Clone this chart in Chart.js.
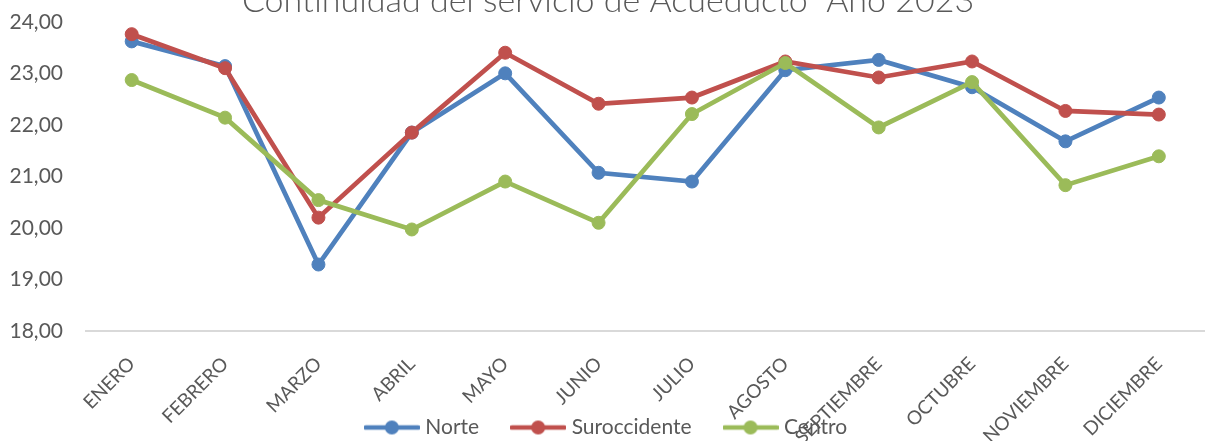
<!DOCTYPE html>
<html>
<head>
<meta charset="utf-8">
<script src="https://cdn.jsdelivr.net/npm/chart.js@4"></script>
<style>
  html, body { margin: 0; padding: 0; background: #fff; overflow: hidden; }
  body { width: 1205px; height: 441px; position: relative; }
  #wrap { position: absolute; left: 0; top: -20px; width: 1213px; height: 468px; }
</style>
</head>
<body>
<div id="wrap"><canvas id="chart"></canvas></div>
<script>
const months = ["ENERO", "FEBRERO", "MARZO", "ABRIL", "MAYO", "JUNIO", "JULIO",
    "AGOSTO", "SEPTIEMBRE", "OCTUBRE", "NOVIEMBRE", "DICIEMBRE"];

const norte = [23.62, 23.14, 19.29, 21.85, 23.00, 21.07, 20.90, 23.06, 23.26, 22.73, 21.68, 22.53];
const suroccidente = [23.76, 23.10, 20.20, 21.85, 23.40, 22.41, 22.53, 23.23, 22.92, 23.23, 22.27, 22.20];
const centro = [22.87, 22.14, 20.54, 19.97, 20.90, 20.10, 22.21, 23.20, 21.95, 22.83, 20.83, 21.39];

const yTicks = [18, 19, 20, 21, 22, 23, 24];

const grey = "#595959";

// legend marker: short line with a dot in the middle
function marker(color) {
    const c = document.createElement("canvas");
    c.width = 56;
    c.height = 16;
    const g = c.getContext("2d");
    g.strokeStyle = color;
    g.lineWidth = 4.7;
    g.lineCap = "round";
    g.beginPath();
    g.moveTo(2, 8);
    g.lineTo(54, 8);
    g.stroke();
    g.fillStyle = color;
    g.beginPath();
    g.arc(28, 8, 7, 0, Math.PI * 2);
    g.fill();
    return c;
}

function series(label, data, color, order) {
    return {
        label: label,
        data: data,
        borderColor: color,
        backgroundColor: color,
        borderWidth: 4.7,
        pointRadius: 6.5,
        pointBorderWidth: 1,
        pointBackgroundColor: color,
        pointBorderColor: color,
        tension: 0,
        order: order,
        legendMarker: marker(color)
    };
}

new Chart(document.getElementById("chart"), {
    type: "line",
    data: {
        labels: months,
        datasets: [
            series("Norte", norte, "#4F81BD", 3),
            series("Suroccidente", suroccidente, "#C0504D", 2),
            series("Centro", centro, "#9BBB59", 1)
        ]
    },
    options: {
        responsive: true,
        maintainAspectRatio: false,
        animation: false,
        layout: { padding: { left: 3 } },
        plugins: {
            title: {
                display: true,
                text: "Continuidad del servicio de Acueducto  Año 2023",
                color: grey,
                font: { family: "Lato", size: 34, weight: "300" },
                padding: { top: 1, bottom: 0 }
            },
            legend: {
                position: "bottom",
                labels: {
                    color: grey,
                    font: { family: "Lato", size: 21 },
                    usePointStyle: true,
                    pointStyleWidth: 46,
                    padding: 36,
                    generateLabels(chart) {
                        return chart.data.datasets.map((ds, i) => ({
                            text: ds.label,
                            fontColor: grey,
                            pointStyle: ds.legendMarker,
                            fillStyle: ds.borderColor,
                            strokeStyle: ds.borderColor,
                            lineWidth: 0,
                            hidden: false,
                            datasetIndex: i
                        }));
                    }
                }
            },
            tooltip: { enabled: false }
        },
        scales: {
            x: {
                offset: true,
                grid: { display: false },
                border: { display: false },
                ticks: {
                    color: grey,
                    font: { family: "Lato", size: 19, lineHeight: 1 },
                    minRotation: 45,
                    maxRotation: 45,
                    padding: 15,
                    autoSkip: false
                },
                afterFit(scale) {
                    scale.height = 50;
                    // let the rotated month names run down over the legend
                    scale._computeLabelArea = () => null;
                }
            },
            y: {
                min: 18,
                max: 24,
                afterBuildTicks(scale) {
                    scale.ticks = yTicks.map(v => ({ value: v }));
                },
                grid: {
                    color: c => c.tick && c.tick.value === 18 ? "#D9D9D9" : "rgba(0,0,0,0)",
                    lineWidth: 2,
                    drawTicks: false
                },
                border: { display: false },
                ticks: {
                    color: grey,
                    font: { family: "Lato", size: 21 },
                    padding: 22,
                    callback: v => v.toFixed(2).replace(".", ",")
                },
                afterFit(scale) { scale.width = 82; }
            }
        }
    }
});
</script>
</body>
</html>
